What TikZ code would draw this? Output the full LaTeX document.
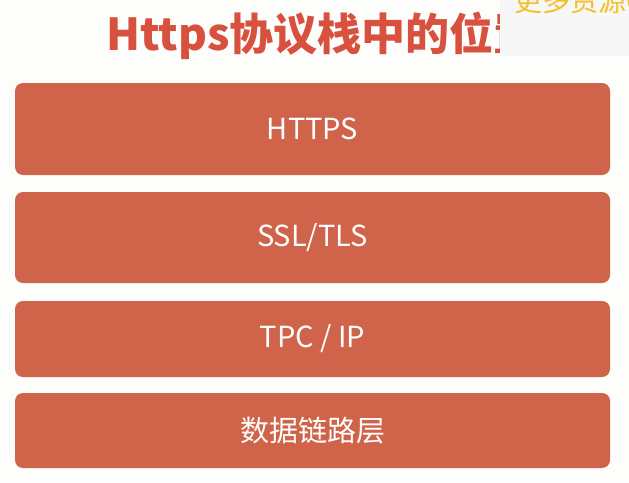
\documentclass[tikz,border=0pt]{standalone}
\usepackage{fontspec}
\setmainfont{Noto Sans CJK SC}
\usepackage{tikz}
\usepackage{color}
\definecolor{layerfill}{RGB}{208,100,74}
\definecolor{titlered}{RGB}{216,80,62}
\definecolor{notegold}{RGB}{242,192,40}
\definecolor{paper}{RGB}{253,253,251}

\begin{document}
\begin{tikzpicture}[x=1pt,y=-1pt,
  layer/.style={fill=layerfill,rounded corners=8pt,minimum width=595pt,
    text=white,font=\fontsize{29}{29}\selectfont,inner sep=0pt}]
\useasboundingbox (0,0) rectangle (629,482);
\clip (0,0) rectangle (629,482);
\fill[paper] (0,0) rectangle (629,482);
\node[anchor=base west,text=titlered,inner sep=0pt,font=\fontsize{44}{44}\selectfont\bfseries] (title) at (106,50) {Https协议栈中的位置};
\fill[white!97!black] (500,0) rectangle (629,56);
\node[anchor=base west,text=notegold,inner sep=0pt,font=\fontsize{28}{28}\selectfont] (note) at (514,11) {更多资源C};
\node[layer,minimum height=92pt] (https) at (312.5,129) {HTTPS};
\node[layer,minimum height=91pt] (ssl) at (312.5,237.5) {SSL/TLS};
\node[layer,minimum height=76pt] (tcp) at (312.5,339) {TPC / IP};
\node[layer,minimum height=75pt] (link) at (312.5,430.5) {数据链路层};
\end{tikzpicture}
\end{document}
